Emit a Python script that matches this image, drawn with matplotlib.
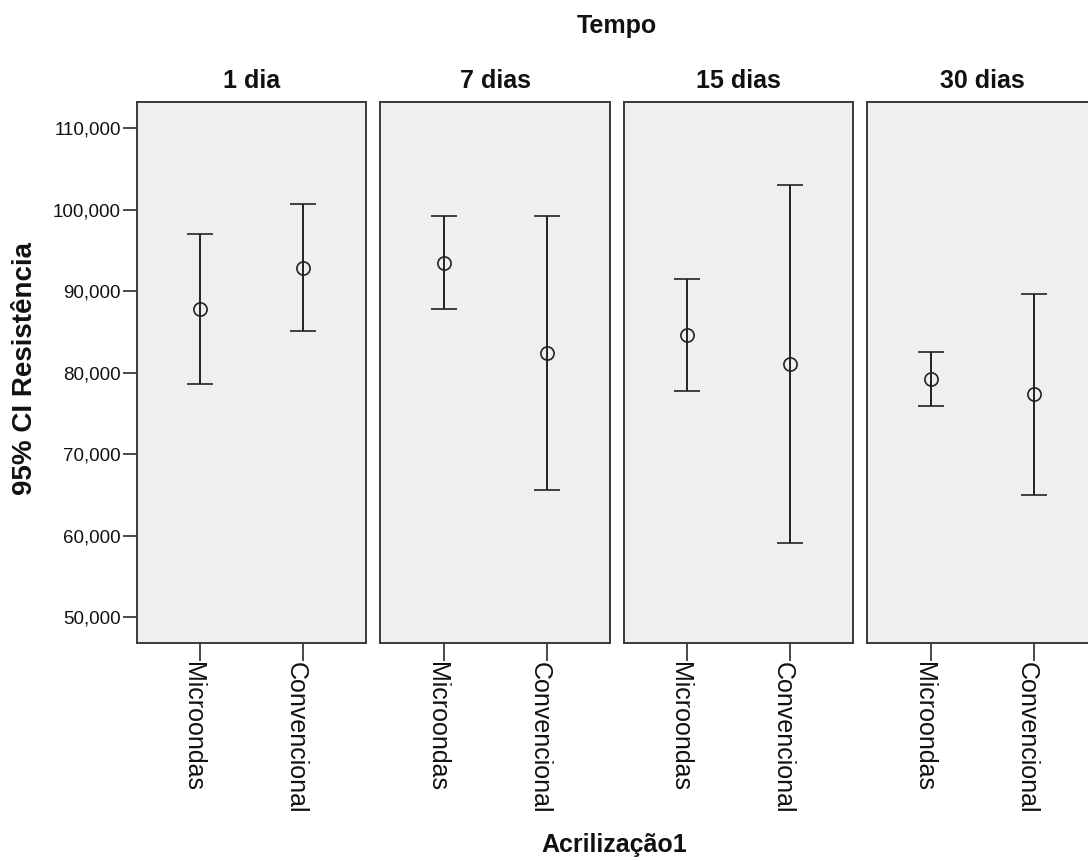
import matplotlib
matplotlib.use("Agg")
import matplotlib.pyplot as plt
from matplotlib.transforms import ScaledTranslation, blended_transform_factory

plt.rcParams['font.family'] = ['Liberation Sans', 'DejaVu Sans']

# Data (values in thousands, shown with decimal comma)
times = ['1 dia', '7 dias', '15 dias', '30 dias']
categories = ['Microondas', 'Convencional']
mw_mean = [87.86, 93.47, 84.66, 79.25]
mw_low = [78.63, 87.80, 77.81, 75.97]
mw_high = [97.00, 99.20, 91.55, 82.52]
cv_mean = [92.94, 82.40, 81.10, 77.40]
cv_low = [85.10, 65.63, 59.15, 65.02]
cv_high = [100.77, 99.20, 103.03, 89.70]
yticks = [50, 60, 70, 80, 90, 100, 110]

W, H = 1088, 861
fig = plt.figure(figsize=(W / 100, H / 100), dpi=100)

panel_left = [136.8, 380.3, 623.8, 867.3]
panel_w = 229.5
top_px, bot_px = 101.5, 643.0

frame_col = '#3a3a3a'
line_col = '#222222'

tick_len = 13  # points

for i, t in enumerate(times):
    ax = fig.add_axes([panel_left[i] / W, (H - bot_px) / H, panel_w / W, (bot_px - top_px) / H])
    ax.set_facecolor('#efefef')
    means = [mw_mean[i], cv_mean[i]]
    lows = [mw_low[i], cv_low[i]]
    highs = [mw_high[i], cv_high[i]]
    xs = list(range(len(categories)))
    yerr = [[m - l for m, l in zip(means, lows)], [h - m for m, h in zip(means, highs)]]
    ax.errorbar(xs, means, yerr=yerr, fmt='o', color=line_col, ecolor=line_col,
                elinewidth=1.4, capsize=9.5, capthick=1.4, markersize=9.5,
                markerfacecolor='none', markeredgecolor=line_col, markeredgewidth=1.2)
    ax.set_xlim(-0.615, 1.612)
    ax.set_ylim(46.87, 113.31)
    for s in ax.spines.values():
        s.set_color(frame_col)
        s.set_linewidth(1.4)
    ax.set_xticks(xs)
    ax.set_xticklabels([])
    ax.tick_params(axis='x', length=tick_len, width=1.3, color=frame_col, pad=0)
    trans = blended_transform_factory(ax.transData, ax.transAxes) + \
        ScaledTranslation(-7 / 100, -(tick_len + 0.5) / 72, fig.dpi_scale_trans)
    for x, cat in zip(xs, categories):
        ax.text(x, 0, cat, transform=trans, rotation=270, fontsize=18,
                color='#111111', ha='center', va='top')
    if i == 0:
        ax.set_yticks(yticks)
        ax.set_yticklabels([f"{v:.3f}".replace('.', ',') for v in yticks],
                           fontsize=13.5, color='#111111')
        ax.tick_params(axis='y', length=10, width=1.3, color=frame_col, pad=1.5)
    else:
        ax.set_yticks([])
    ax.set_title(t, fontsize=18, fontweight='bold', pad=9.5, color='#111111')

center_x = (panel_left[0] + panel_left[-1] + panel_w) / 2
fig.text(center_x / W, (H - 32.5) / H, 'Tempo', fontsize=18, fontweight='bold',
         ha='center', va='baseline', color='#111111')
fig.text(614.5 / W, (H - 852) / H, 'Acrilização1', fontsize=18, fontweight='bold',
         ha='center', va='baseline', color='#111111')
fig.text(25 / W, (H - 368) / H, '95% CI Resistência', fontsize=20,
         fontweight='bold', rotation=90, ha='center', va='center', color='#111111')

fig.savefig('out.png', dpi=100, facecolor='white')
